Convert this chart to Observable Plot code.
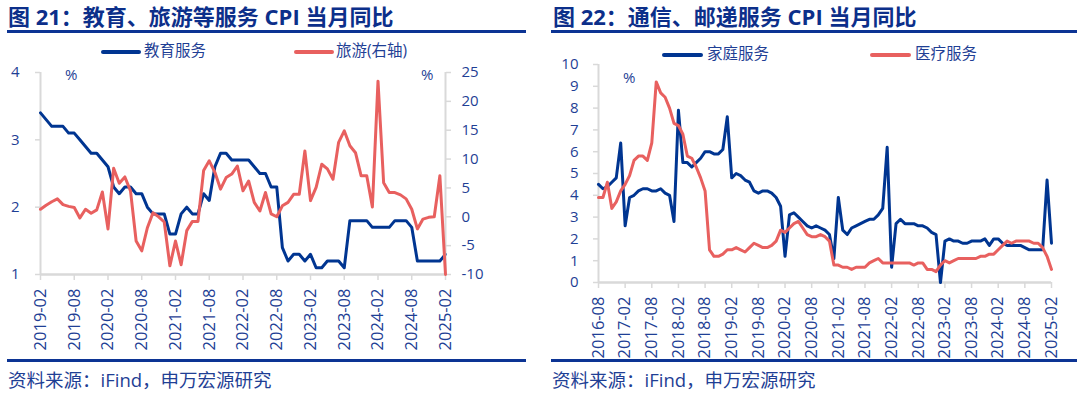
<!DOCTYPE html>
<html>
<head>
<meta charset="utf-8">
<script src="https://cdn.jsdelivr.net/npm/d3@7"></script>
<script src="https://cdn.jsdelivr.net/npm/@observablehq/plot@0.6"></script>
<style>
  body { margin: 0; background: #fff; }
  #root { position: relative; width: 1080px; height: 395px; overflow: hidden;
          font-family: "Open Sans", "Noto Sans CJK SC", sans-serif; color: #1f3f95; }
  .abs { position: absolute; white-space: nowrap; line-height: 1; }
  .title { font-size: 22px; font-weight: bold; color: #0c2f8a; }
  .rule { position: absolute; height: 3px; background: #0c3494; }
  .leg { font-size: 15.5px; color: #1f3f95; }
  .sw { position: absolute; height: 4px; border-radius: 2px; }
  .src { font-size: 18.5px; line-height: 1.2; color: #1f3f95; }
  .pct { font-size: 15px; color: #1f3f95; }
  #root svg { position: absolute; top: 0; }
</style>
</head>
<body>
<div id="root">
  <div class="abs title" style="left:8px;top:5px;">图 21：教育、旅游等服务 CPI 当月同比</div>
  <div class="rule" style="left:7px;top:30px;width:519px;"></div>
  <div class="sw" style="left:101px;top:50px;width:40px;background:#003591;"></div>
  <div class="abs leg" style="left:144px;top:43px;">教育服务</div>
  <div class="sw" style="left:294px;top:50px;width:40px;background:#e8605f;"></div>
  <div class="abs leg" style="left:336px;top:43px;">旅游(右轴)</div>
  <div class="abs pct" style="left:65px;top:67px;">%</div>
  <div class="abs pct" style="left:421px;top:67px;">%</div>
  <div class="rule" style="left:7px;top:359px;width:519px;"></div>
  <div class="abs src" style="left:8px;top:369px;">资料来源：iFind，申万宏源研究</div>

  <div class="abs title" style="left:553px;top:5px;">图 22：通信、邮递服务 CPI 当月同比</div>
  <div class="rule" style="left:551px;top:30px;width:526px;"></div>
  <div class="sw" style="left:662px;top:53px;width:41px;background:#003591;"></div>
  <div class="abs leg" style="left:707px;top:46px;">家庭服务</div>
  <div class="sw" style="left:870px;top:53px;width:41px;background:#e8605f;"></div>
  <div class="abs leg" style="left:915px;top:46px;">医疗服务</div>
  <div class="abs pct" style="left:623px;top:70px;">%</div>
  <div class="rule" style="left:551px;top:359px;width:526px;"></div>
  <div class="abs src" style="left:552px;top:369px;">资料来源：iFind，申万宏源研究</div>
</div>
<script>
// ---------- data: chart 21 (monthly, 2019-02 .. 2025-02) ----------
const eduStart = "2019-02";
const eduTicks = ["2019-02","2019-08","2020-02","2020-08","2021-02","2021-08","2022-02",
                  "2022-08","2023-02","2023-08","2024-02","2024-08","2025-02"];
const education = [
  3.4,3.3,3.2,3.2,3.2,3.1,3.1,3.0,2.9,2.8,2.8,
  2.7,2.6,2.3,2.2,2.3,2.3,2.2,2.2,2.0,1.9,1.9,1.9,
  1.6,1.6,1.9,2.0,1.9,1.9,2.2,2.1,2.6,2.8,2.8,2.7,
  2.7,2.7,2.7,2.6,2.5,2.5,2.3,2.3,1.4,1.2,1.3,1.3,
  1.2,1.3,1.1,1.1,1.2,1.2,1.2,1.1,1.8,1.8,1.8,1.8,
  1.7,1.7,1.7,1.7,1.8,1.8,1.8,1.7,1.2,1.2,1.2,1.2,
  1.2,1.3
];
const tourism = [
  1.3,2.0,2.6,3.1,2.1,1.8,1.6,-0.2,1.3,0.6,1.2,
  4.3,-2.1,8.4,5.8,6.9,4.5,-4.2,-5.9,-1.9,0.7,0.0,-0.9,
  -8.5,-4.2,-8.3,-2.4,-0.8,-0.8,8.0,9.7,7.7,4.8,6.8,7.4,
  8.8,4.5,6.2,2.5,1.0,4.2,0.5,0.0,1.9,2.5,3.9,3.9,
  11.4,2.8,5.1,9.1,8.3,6.5,12.9,14.9,12.3,11.1,7.1,7.1,
  1.7,23.5,5.9,4.2,4.2,3.8,3.1,1.3,-2.1,-0.4,-0.1,0.0,
  7.1,-10.0
];
const eduLeftTicks = [1, 2, 3, 4];
const eduRightTicks = [-10, -5, 0, 5, 10, 15, 20, 25];

// ---------- data: chart 22 (monthly, 2016-08 .. 2025-02) ----------
const homeStart = "2016-08";
const homeTicks = ["2016-08","2017-02","2017-08","2018-02","2018-08","2019-02","2019-08",
                   "2020-02","2020-08","2021-02","2021-08","2022-02","2022-08","2023-02",
                   "2023-08","2024-02","2024-08","2025-02"];
const household = [
  4.5,4.3,4.4,4.6,4.8,6.4,2.6,3.9,4.0,4.2,
  4.3,4.3,4.2,4.2,4.3,4.1,4.0,2.8,7.9,5.5,
  5.5,5.3,5.5,5.7,6.0,6.0,5.9,5.9,6.1,7.6,
  4.8,5.0,4.9,4.7,4.6,4.2,4.1,4.2,4.2,4.1,
  3.9,3.5,1.2,3.1,3.2,3.0,2.8,2.6,2.5,2.6,
  2.5,2.4,2.2,1.1,3.9,2.4,2.2,2.5,2.6,2.7,
  2.8,2.9,2.9,3.1,3.4,6.2,0.7,2.7,2.9,2.7,
  2.7,2.7,2.6,2.6,2.5,2.3,2.2,0.0,1.9,2.0,
  1.9,1.9,1.8,1.8,1.9,1.9,1.9,2.0,1.7,2.0,
  2.0,1.8,1.7,1.7,1.7,1.7,1.6,1.5,1.5,1.5,
  1.5,4.7,1.8
];
const medical = [
  3.9,3.9,4.6,3.4,3.7,4.2,4.5,4.9,5.6,5.8,
  5.8,5.6,6.4,9.2,8.7,8.5,8.0,7.3,7.2,6.8,
  5.8,5.7,5.3,4.8,4.2,1.5,1.2,1.2,1.3,1.5,
  1.5,1.6,1.5,1.4,1.6,1.8,1.7,1.6,1.6,1.7,
  1.9,2.4,2.3,2.5,2.7,2.8,2.5,2.2,2.1,2.1,
  2.2,2.1,1.9,0.8,0.8,0.7,0.7,0.6,0.7,0.7,
  0.7,0.9,1.0,1.1,0.9,0.9,0.9,0.9,0.9,0.9,
  0.9,0.8,0.9,0.9,0.6,0.6,0.5,0.8,1.0,0.9,
  1.0,1.1,1.1,1.1,1.1,1.1,1.2,1.2,1.3,1.3,
  1.5,1.7,1.9,1.8,1.9,1.9,1.9,1.9,1.8,1.8,
  1.6,1.2,0.6
];
const homeTicksY = [0,1,2,3,4,5,6,7,8,9,10];

// ---------- helpers ----------
const fmt = d3.utcFormat("%Y-%m");
function monthLabels(start, n) {
  const d0 = d3.utcParse("%Y-%m")(start);
  return d3.range(n).map(i => fmt(d3.utcMonth.offset(d0, i)));
}
const BLUE = "#003591", RED = "#e8605f", GRAY = "#d9d9d9", TXT = "#1f3f95";
const FONT = '"Open Sans", "Noto Sans CJK SC", sans-serif';
const baseStyle = {background: "transparent", fontFamily: FONT, fontSize: "15px", color: TXT, overflow: "visible"};
const numFmt = d => String(d);

const root = document.getElementById("root");
function place(svg, left) { svg.style.left = left + "px"; root.appendChild(svg); }

// ---------- chart 21 ----------
const eduMonths = monthLabels(eduStart, education.length);
const eduData = eduMonths.map((m, i) => ({month: m, edu: education[i], tour: tourism[i]}));
const L = {width: 540, height: 360, marginLeft: 40, marginRight: 95, marginTop: 72, marginBottom: 86};

const c21a = Plot.plot({
  ...L, style: baseStyle,
  x: {type: "point", domain: eduMonths, padding: 0},
  y: {domain: [1, 4]},
  marks: [
    Plot.ruleX([eduMonths[0]], {stroke: GRAY, strokeWidth: 2}),
    Plot.ruleY([1], {stroke: GRAY, strokeWidth: 2.5}),
    Plot.axisY({ticks: eduLeftTicks, tickFormat: numFmt, tickSize: 5, tickPadding: 16, stroke: GRAY, strokeWidth: 1.5, fill: TXT, label: null, fontSize: 15}),
    Plot.axisX({ticks: eduTicks, tickRotate: -90, tickSize: 6, tickPadding: 8, stroke: GRAY, strokeWidth: 1.5, fill: TXT, label: null, fontSize: 16.5}),
    Plot.line(eduData, {x: "month", y: "edu", stroke: BLUE, strokeWidth: 3, strokeLinejoin: "round"})
  ]
});
place(c21a, 0);

const c21b = Plot.plot({
  ...L, style: baseStyle,
  x: {type: "point", domain: eduMonths, padding: 0, axis: null},
  y: {domain: [-10, 25], axis: null},
  marks: [
    Plot.ruleX([eduMonths[eduMonths.length - 1]], {stroke: GRAY, strokeWidth: 2}),
    Plot.axisY({anchor: "right", ticks: eduRightTicks, tickFormat: numFmt, tickSize: 5, tickPadding: 11, stroke: GRAY, strokeWidth: 1.5, fill: TXT, label: null, fontSize: 15}),
    Plot.line(eduData, {x: "month", y: "tour", stroke: RED, strokeWidth: 3, strokeLinejoin: "round"})
  ]
});
place(c21b, 0);

// ---------- chart 22 ----------
const homeMonths = monthLabels(homeStart, household.length);
const homeData = homeMonths.map((m, i) => ({month: m, home: household[i], med: medical[i]}));

const c22 = Plot.plot({
  width: 540, height: 360, marginLeft: 58, marginRight: 29, marginTop: 64, marginBottom: 78,
  style: baseStyle,
  x: {type: "point", domain: homeMonths, padding: 0},
  y: {domain: [0, 10]},
  marks: [
    Plot.ruleX([homeMonths[0]], {stroke: GRAY, strokeWidth: 2}),
    Plot.ruleY([0], {stroke: GRAY, strokeWidth: 2.5}),
    Plot.axisY({ticks: homeTicksY, tickFormat: numFmt, tickSize: 5, tickPadding: 15, stroke: GRAY, strokeWidth: 1.5, fill: TXT, label: null, fontSize: 15}),
    Plot.axisX({ticks: homeTicks, tickRotate: -90, tickSize: 6, tickPadding: 8, stroke: GRAY, strokeWidth: 1.5, fill: TXT, label: null, fontSize: 16.5}),
    Plot.line(homeData, {x: "month", y: "home", stroke: BLUE, strokeWidth: 3, strokeLinejoin: "round"}),
    Plot.line(homeData, {x: "month", y: "med", stroke: RED, strokeWidth: 3, strokeLinejoin: "round"})
  ]
});
place(c22, 540);
</script>
</body>
</html>
